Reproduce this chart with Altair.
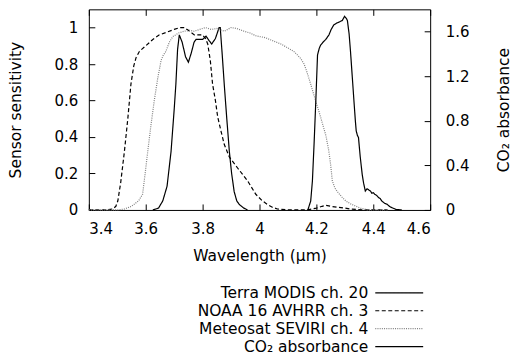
import altair as alt
import pandas as pd

names = ["Terra MODIS ch. 20", "NOAA 16 AVHRR ch. 3", "Meteosat SEVIRI ch. 4", "CO₂ absorbance"]

modis_wl = [3.625, 3.645, 3.66, 3.675, 3.689, 3.700, 3.706, 3.712, 3.718, 3.728, 3.740, 3.750, 3.760,
            3.770, 3.777, 3.790, 3.800, 3.812, 3.822, 3.832, 3.845, 3.858, 3.862, 3.869, 3.876, 3.885,
            3.894, 3.902, 3.911, 3.920, 3.929, 3.945, 3.958]
modis_val = [0.0, 0.01, 0.05, 0.13, 0.32, 0.55, 0.69, 0.88, 0.96, 0.92, 0.84, 0.81, 0.86,
             0.92, 0.935, 0.935, 0.935, 0.953, 0.93, 0.91, 0.94, 1.0, 1.0, 0.85, 0.69, 0.5,
             0.32, 0.2, 0.10, 0.05, 0.03, 0.01, 0.0]

noaa_wl = [3.40, 3.46, 3.484, 3.495, 3.502, 3.512, 3.525, 3.537, 3.548, 3.558, 3.566, 3.578, 3.600,
           3.625, 3.648, 3.675, 3.700, 3.720, 3.735, 3.750, 3.771, 3.800, 3.810, 3.818, 3.827, 3.835,
           3.845, 3.853, 3.865, 3.876, 3.894, 3.923, 3.958, 3.987, 4.010, 4.028, 4.045, 4.063, 4.100,
           4.168, 4.185, 4.200, 4.220, 4.233, 4.250, 4.274, 4.300, 4.320, 4.360, 4.450]
noaa_val = [0.0, 0.0, 0.005, 0.02, 0.05, 0.15, 0.32, 0.5, 0.69, 0.79, 0.835, 0.87, 0.90,
            0.935, 0.96, 0.975, 0.99, 1.0, 1.0, 0.985, 0.96, 0.96, 0.94, 0.91, 0.82, 0.69,
            0.6, 0.51, 0.43, 0.36, 0.29, 0.23, 0.16, 0.086, 0.05, 0.03, 0.015, 0.005, 0.0,
            0.0, 0.005, 0.01, 0.02, 0.025, 0.02, 0.015, 0.01, 0.005, 0.0, 0.0]

seviri_wl = [3.40, 3.50, 3.525, 3.55, 3.575, 3.589, 3.598, 3.607, 3.618, 3.63, 3.642, 3.654, 3.662,
             3.671, 3.683, 3.695, 3.715, 3.735, 3.755, 3.77, 3.79, 3.81, 3.83, 3.85, 3.876, 3.9,
             3.92, 3.946, 3.967, 3.987, 4.02, 4.051, 4.075, 4.098, 4.12, 4.133, 4.145, 4.157, 4.168,
             4.18, 4.195, 4.209, 4.222, 4.233, 4.243, 4.25, 4.256, 4.265, 4.274, 4.29, 4.303, 4.318,
             4.332, 4.355, 4.38, 4.45]
seviri_val = [0.0, 0.0, 0.005, 0.02, 0.05, 0.086, 0.2, 0.32, 0.46, 0.60, 0.72, 0.82, 0.85,
              0.87, 0.92, 0.95, 0.97, 0.98, 0.985, 0.98, 0.99, 1.0, 0.99, 0.995, 0.98, 1.0,
              0.995, 0.98, 0.97, 0.955, 0.945, 0.925, 0.91, 0.89, 0.87, 0.85, 0.83, 0.80, 0.75,
              0.69, 0.61, 0.54, 0.47, 0.41, 0.33, 0.25, 0.16, 0.12, 0.10, 0.07, 0.05, 0.035,
              0.025, 0.01, 0.0, 0.0]

co2_wl = [4.170, 4.180, 4.186, 4.192, 4.198, 4.204, 4.210, 4.215, 4.225, 4.233, 4.244, 4.252, 4.261,
          4.270, 4.279, 4.291, 4.299, 4.305, 4.309, 4.315, 4.320, 4.326, 4.332, 4.337, 4.340, 4.344,
          4.348, 4.354, 4.361, 4.366, 4.372, 4.378, 4.384, 4.390, 4.395, 4.400, 4.405, 4.412, 4.419,
          4.425, 4.430, 4.440, 4.449, 4.458, 4.466, 4.48, 4.50]
co2_val = [0.0, 0.08, 0.26, 0.6, 0.98, 1.39, 1.45, 1.48, 1.51, 1.53, 1.57, 1.62, 1.66,
           1.675, 1.685, 1.70, 1.737, 1.72, 1.70, 1.58, 1.42, 1.2, 0.98, 0.8, 0.71, 0.67,
           0.65, 0.48, 0.32, 0.24, 0.17, 0.19, 0.18, 0.17, 0.15, 0.155, 0.14, 0.13, 0.11,
           0.1, 0.08, 0.06, 0.05, 0.03, 0.02, 0.005, 0.0]

x_ticks = [3.4, 3.6, 3.8, 4.0, 4.2, 4.4, 4.6]
y_ticks = [0, 0.2, 0.4, 0.6, 0.8, 1.0]
y2_ticks = [0, 0.4, 0.8, 1.2, 1.6]

rows = []
for n, wls, vals in [(names[0], modis_wl, modis_val), (names[1], noaa_wl, noaa_val),
                     (names[2], seviri_wl, seviri_val)]:
    for i, (w, v) in enumerate(zip(wls, vals)):
        rows.append({"series": n, "wl": w, "val": v, "i": i})
sens_df = pd.DataFrame(rows)
co2_df = pd.DataFrame({"series": names[3], "wl": co2_wl, "val": co2_val, "i": range(len(co2_wl))})

FONT = "DejaVu Sans"
ROW = 16
dash_scale = alt.Scale(domain=names, range=[[1, 0], [4, 2.5], [1, 1.2], [1, 0]])
color_scale = alt.Scale(domain=names, range=["#000000", "#000000", "#808080", "#000000"])
xscale = alt.Scale(domain=[3.4, 4.6], nice=False, zero=False)

common_axis = dict(tickSize=6, offset={"expr": "-6"}, domain=False, grid=False, tickColor="black",
                   labelColor="black", titleColor="black", labelFont=FONT, titleFont=FONT,
                   labelFontSize=15, titleFontSize=15.5, titleFontWeight="normal", format="~g")

# legend sample: a horizontal path 3 units each side of centre -> 3*ROW px long
legend = alt.Legend(title=None, orient="none", legendX=302, legendY=275, direction="vertical",
                    symbolType="M-3,0H3", symbolSize=ROW * ROW, symbolStrokeWidth=1.2,
                    symbolFillColor="transparent",
                    labelAlign="right", labelOffset={"expr": str(-(ROW + ROW + 8))},
                    labelFont=FONT, labelFontSize=15.5, labelColor="black", rowPadding=0,
                    padding=0, labelLimit=400)

sens = alt.Chart(sens_df).mark_line(strokeWidth=1.2).encode(
    x=alt.X("wl:Q", scale=xscale,
            axis=alt.Axis(values=x_ticks, title="Wavelength (µm)", labelPadding=12, titlePadding=12,
                          **common_axis)),
    y=alt.Y("val:Q", scale=alt.Scale(domain=[0, 1.1], nice=False),
            axis=alt.Axis(values=y_ticks, title="Sensor sensitivity", labelPadding=11,
                          titlePadding=31, **common_axis)),
    strokeDash=alt.StrokeDash("series:N", scale=dash_scale, legend=legend),
    color=alt.Color("series:N", scale=color_scale, legend=legend),
    detail="series:N",
    order="i:Q",
)

co2 = alt.Chart(co2_df).mark_line(strokeWidth=1.2).encode(
    x=alt.X("wl:Q", scale=xscale,
            axis=alt.Axis(values=x_ticks, orient="top", labels=False, title=None, **common_axis)),
    y=alt.Y("val:Q", scale=alt.Scale(domain=[0, 1.8], nice=False),
            axis=alt.Axis(values=y2_ticks, orient="right", title="CO₂ absorbance", labelPadding=15,
                          titlePadding=43, titleAngle=270, **common_axis)),
    strokeDash=alt.StrokeDash("series:N", scale=dash_scale, legend=legend),
    color=alt.Color("series:N", scale=color_scale, legend=legend),
    order="i:Q",
)

chart = alt.layer(sens, co2).resolve_scale(y="independent").resolve_axis(
    x="independent", y="independent"
).properties(width=342, height=201, padding=0, background="white").configure_view(
    stroke="black", strokeWidth=1
)

chart.save("out.html", embed_options={"renderer": "svg", "actions": False})
